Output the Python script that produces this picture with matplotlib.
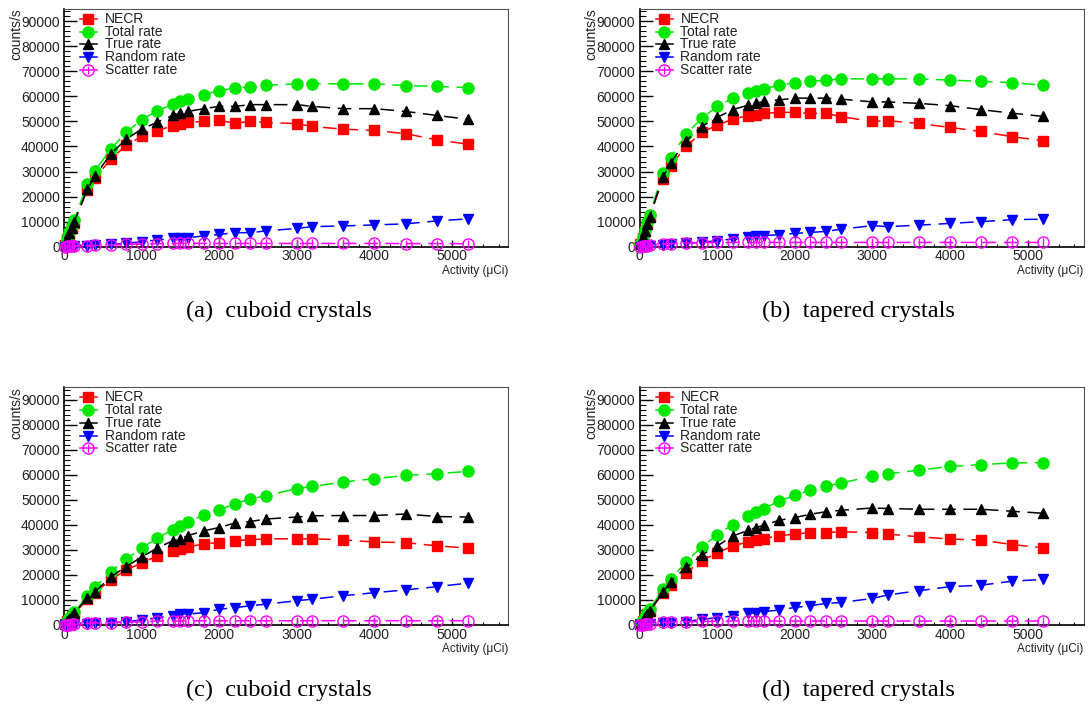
import matplotlib
matplotlib.use("Agg")
import matplotlib.pyplot as plt
from matplotlib.ticker import MultipleLocator
from matplotlib.lines import Line2D

# Source activity (uCi) at which the count rates were simulated
activity = [10, 40, 70, 100, 130, 300, 400, 600, 800, 1000, 1200, 1400, 1500, 1600,
            1800, 2000, 2200, 2400, 2600, 3000, 3200, 3600, 4000, 4400, 4800, 5200]

# (a) cuboid crystals
necr_a = [760, 2950, 5200, 7400, 9500, 22700, 27300, 34900, 40400, 44000, 46300, 48300, 48900, 49600,
          50000, 50400, 49300, 50000, 49600, 49100, 48000, 46900, 46400, 45100, 42700, 40900]
total_a = [850, 3300, 5800, 8200, 10700, 24900, 30300, 38900, 45600, 50700, 54200, 56800, 58200, 59100,
           60700, 62300, 63300, 63700, 64400, 65000, 65100, 65000, 65000, 64300, 64000, 63500]
true_a = [780, 3000, 5300, 7600, 9800, 22900, 28300, 36900, 42900, 46900, 49700, 52400, 53300, 54000,
          55100, 56000, 56000, 56700, 56700, 56700, 56000, 55100, 55100, 54000, 52400, 50900]
random_a = [10, 30, 60, 90, 130, 400, 670, 900, 1300, 2000, 2700, 3300, 3600, 3600,
            4300, 4900, 5600, 5600, 6300, 7300, 8000, 8300, 8700, 9100, 10300, 11100]
scatter_a = [30, 110, 190, 270, 350, 300, 500, 700, 900, 1100, 1200, 1300, 1300, 1300,
             1300, 1300, 1300, 1300, 1300, 1300, 1300, 1300, 1300, 1250, 1250, 1200]

# (b) tapered crystals
necr_b = [900, 3600, 6300, 9000, 11700, 27000, 32300, 40000, 45600, 48500, 50900, 52300, 52700, 53200,
          53600, 53600, 53200, 53200, 51900, 50000, 50300, 49200, 47600, 46000, 43900, 42300]
total_b = [980, 3900, 6800, 9700, 12600, 29400, 35600, 44900, 51200, 56000, 59200, 61300, 62200, 62900,
           64500, 65500, 66000, 66500, 67000, 67000, 67000, 67000, 66500, 66000, 65500, 64500]
true_b = [920, 3700, 6400, 9100, 11900, 27700, 33400, 42300, 47900, 51600, 54700, 56500, 57200, 58000,
          58600, 59300, 59300, 59300, 58900, 57800, 57800, 57200, 56300, 54700, 53300, 52000]
random_b = [20, 80, 140, 200, 260, 800, 1100, 1500, 1700, 2400, 3100, 4000, 4400, 4400,
            4800, 5300, 5700, 6100, 7000, 8400, 8000, 8600, 9300, 10000, 10800, 11000]
scatter_b = [40, 150, 260, 370, 480, 1100, 1200, 1500, 1600, 1700, 1700, 1700, 1700, 1700,
             1700, 1700, 1700, 1700, 1700, 1700, 1700, 1700, 1700, 1700, 1700, 1700]

# (c) cuboid crystals
necr_c = [350, 1400, 2400, 3400, 4450, 10300, 12900, 18000, 22000, 24700, 27600, 29600, 30300, 31100,
          32400, 32900, 33700, 34000, 34400, 34400, 34400, 34000, 33100, 32900, 31600, 30700]
total_c = [390, 1550, 2700, 3900, 5000, 11600, 15100, 21300, 26300, 30700, 34700, 38000, 39700, 41100,
           44000, 46000, 48300, 50300, 51600, 54400, 55300, 57100, 58400, 59700, 60400, 61300]
true_c = [360, 1430, 2500, 3600, 4650, 10700, 13300, 19100, 23300, 27100, 30700, 33600, 34400, 35700,
          37600, 38900, 40700, 41300, 42300, 43100, 43600, 43700, 43700, 44300, 43300, 43100]
random_c = [10, 40, 70, 100, 130, 400, 670, 900, 1300, 2000, 2900, 3700, 4300, 4400,
            4900, 6300, 6900, 7700, 8300, 9700, 10300, 11700, 12900, 14000, 15300, 16700]
scatter_c = [20, 90, 150, 220, 290, 670, 800, 900, 1100, 1300, 1600, 1600, 1600, 1600,
             1700, 1700, 1700, 1700, 1700, 1700, 1700, 1700, 1700, 1700, 1700, 1700]

# (d) tapered crystals
necr_d = [420, 1680, 2950, 4200, 5450, 12600, 15900, 20900, 25600, 28800, 31500, 33200, 33900, 34500,
          35600, 36300, 36900, 36900, 37200, 36900, 36300, 35200, 34300, 33900, 32100, 30800]
total_d = [480, 1900, 3350, 4800, 6200, 14300, 18200, 25200, 31200, 35900, 40100, 43400, 45200, 46500,
           49400, 51800, 53800, 55400, 56700, 59400, 60400, 61800, 63300, 64000, 64700, 64800]
true_d = [440, 1750, 3050, 4350, 5650, 13000, 17300, 23000, 27900, 31500, 35500, 37800, 38900, 39800,
          41800, 42900, 44200, 45200, 45800, 46700, 46500, 46200, 46200, 46200, 45400, 44600]
random_d = [20, 90, 160, 230, 300, 700, 900, 1300, 2300, 2900, 3600, 4600, 4900, 5300,
            6000, 7000, 7700, 8600, 9000, 10600, 12000, 13700, 15300, 15900, 17500, 18200]
scatter_d = [30, 130, 230, 330, 430, 1000, 1100, 1300, 1400, 1500, 1600, 1600, 1600, 1600,
             1600, 1600, 1600, 1600, 1600, 1600, 1600, 1600, 1600, 1600, 1600, 1600]

series_labels = ["NECR", "Total rate", "True rate", "Random rate", "Scatter rate"]
captions = ["(a)  cuboid crystals", "(b)  tapered crystals",
            "(c)  cuboid crystals", "(d)  tapered crystals"]

panels = [
    [necr_a, total_a, true_a, random_a, scatter_a],
    [necr_b, total_b, true_b, random_b, scatter_b],
    [necr_c, total_c, true_c, random_c, scatter_c],
    [necr_d, total_d, true_d, random_d, scatter_d],
]

styles = [
    dict(color="#ff0000", marker="s", mfc="#ff0000", mec="#ff0000", ms=7.2),
    dict(color="#00e800", marker="o", mfc="#00e800", mec="#00e800", ms=8),
    dict(color="#000000", marker="^", mfc="#000000", mec="#000000", ms=7.5),
    dict(color="#0000ff", marker="v", mfc="#0000ff", mec="#0000ff", ms=7.5),
    dict(color="#ff00ff", marker="o", mfc="none", mec="#ff00ff", ms=8, mew=1.0),
]

W, H = 1088, 704
fig = plt.figure(figsize=(W / 100, H / 100), dpi=100)
fig.patch.set_facecolor("white")

sans = "Liberation Sans"
serif = "Liberation Serif"

# axes boxes in pixels: (left, top, width, height)
boxes = [(64, 8.7, 444, 238), (639.5, 8.7, 444, 238),
         (64, 387, 444, 238), (639.5, 387, 444, 238)]
caption_pos = [(279, 311), (858, 311), (279, 690), (858, 690)]

dash = (9, 5)

for k, (box, data) in enumerate(zip(boxes, panels)):
    l, t, w, h = box
    ax = fig.add_axes([l / W, 1 - (t + h) / H, w / W, h / H])
    ax.set_xlim(0, 5720)
    ax.set_ylim(0, 95000)

    for vals, st, lab in zip(data, styles, series_labels):
        ax.plot(activity, vals, ls=(0, dash), lw=1.1, clip_on=False, zorder=3, **st)
        if lab == "Scatter rate":
            ax.plot(activity, vals, ls="none", marker="|", ms=6, mew=0.9,
                    color=st["mec"], clip_on=False, zorder=3)

    # legend drawn in the upper left corner
    lx0, lx1, lm, lt = 16 / w, 33 / w, 24 / w, 41 / w
    for i, (st, lab) in enumerate(zip(styles, series_labels)):
        yy = 1 - (10.3 + 12.75 * i) / h
        ax.add_line(Line2D([lx0, lx1], [yy, yy], transform=ax.transAxes,
                           color=st["color"], lw=1.1, zorder=5))
        ax.add_line(Line2D([lm], [yy], transform=ax.transAxes, ls="none",
                           marker=st["marker"], mfc=st["mfc"], mec=st["mec"],
                           ms=st["ms"], mew=st.get("mew", 1.0), zorder=6))
        if lab == "Scatter rate":
            ax.add_line(Line2D([lm], [yy], transform=ax.transAxes, ls="none",
                               marker="|", ms=6, mew=0.9, color=st["mec"], zorder=6))
        ax.text(lt, yy, lab, transform=ax.transAxes, ha="left", va="center",
                fontsize=10, family=sans, color="#222222")

    # frame: black axes lines, thin grey box
    for s in ("left", "bottom"):
        ax.spines[s].set_color("black")
        ax.spines[s].set_linewidth(1.2)
    for s in ("top", "right"):
        ax.spines[s].set_color("#555555")
        ax.spines[s].set_linewidth(0.8)

    ax.xaxis.set_major_locator(MultipleLocator(1000))
    ax.xaxis.set_minor_locator(MultipleLocator(200))
    ax.yaxis.set_major_locator(MultipleLocator(10000))
    ax.yaxis.set_minor_locator(MultipleLocator(2000))
    ax.tick_params(axis="both", which="both", direction="in", top=False, right=False,
                   colors="black", labelcolor="#222222", labelsize=10)
    ax.tick_params(axis="y", which="major", length=9, width=1.0, pad=3)
    ax.tick_params(axis="y", which="minor", length=4.5, width=0.8)
    ax.tick_params(axis="x", which="major", length=5, width=1.0, pad=2)
    ax.tick_params(axis="x", which="minor", length=2.5, width=0.8)
    for lbl in ax.get_xticklabels() + ax.get_yticklabels():
        lbl.set_family(sans)

    ax.text(1.0, -0.075, "Activity (\u03bcCi)", transform=ax.transAxes, ha="right",
            va="top", fontsize=8.5, family=sans, color="#222222")
    ax.text(-0.108, 1.0, "counts/s", transform=ax.transAxes, rotation=90, ha="center",
            va="top", fontsize=10, family=sans, color="#222222")

    cx, cy = caption_pos[k]
    fig.text(cx / W, 1 - cy / H, captions[k], ha="center", va="center",
             fontsize=17.5, family=serif, color="black")

fig.savefig("out.png", dpi=100, facecolor="white")
